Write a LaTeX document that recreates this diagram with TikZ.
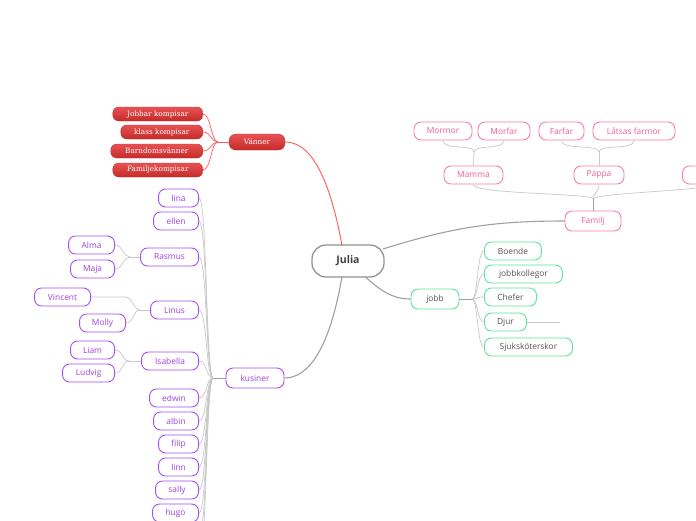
\documentclass[tikz,border=0pt]{standalone}
\usepackage{fontspec}
\setsansfont{Open Sans}
\newfontfamily\redserif{DejaVu Serif}
\definecolor{pinkB}{HTML}{F77FA8}
\definecolor{pinkT}{HTML}{F0608F}
\definecolor{greenB}{HTML}{5DE39B}
\definecolor{greyT}{HTML}{555555}
\definecolor{purB}{HTML}{A650F2}
\definecolor{purT}{HTML}{A040E0}
\definecolor{redTop}{HTML}{E85252}
\definecolor{redBot}{HTML}{C42B2B}
\definecolor{redLine}{HTML}{FF5A5A}
\definecolor{mainLine}{HTML}{A0A0A0}
\definecolor{subLine}{HTML}{C8C8C8}
\begin{document}
\begin{tikzpicture}[x=1pt,y=-1pt,
  base/.style={rectangle, rounded corners=7pt, minimum height=18pt, inner sep=0pt, line width=0.9pt, fill=white, font=\sffamily\fontsize{8.4}{9}\selectfont},
  pk/.style={base, draw=pinkB, text=pinkT},
  gr/.style={base, draw=greenB, text=greyT},
  pu/.style={base, draw=purB, text=purT},
  rd/.style={rectangle, rounded corners=6pt, minimum height=14pt, inner sep=0pt, top color=redTop, bottom color=redBot, draw=redBot, line width=0.4pt, text=white, font=\redserif\fontsize{7.3}{8}\selectfont},
  mainl/.style={draw=mainLine, line width=1.1pt},
  subl/.style={draw=subLine, line width=0.7pt},
  redl/.style={draw=redLine, line width=0.9pt}
]
\useasboundingbox (0,0) rectangle (696,520);
\fill[white] (0,0) rectangle (696,520);
\begin{scope}
\clip (0,0) rectangle (696,520);

% ---------- nodes ----------
\node[rectangle, rounded corners=14pt, minimum width=72pt, minimum height=32pt, draw=gray!85, line width=1.3pt, fill=white, text=black!75, font=\sffamily\bfseries\fontsize{10.5}{12}\selectfont] (julia) at (348,261) {Julia};

% Vänner
\node[rd, minimum width=56pt, minimum height=16pt, rounded corners=7pt] (vanner) at (257,142) {Vänner};
\node[rd, minimum width=90pt, anchor=east] (v1) at (203,114) {Jobbar kompisar};
\node[rd, minimum width=82pt, anchor=east] (v2) at (203,132) {klass kompisar};
\node[rd, minimum width=92pt, anchor=east] (v3) at (203,151) {Barndomsvänner};
\node[rd, minimum width=90pt, anchor=east] (v4) at (203,170) {Familjekompisar};

% Familj
\node[pk, minimum width=56pt, minimum height=20pt] (familj) at (593,221) {Familj};
\node[pk, minimum width=59pt] (mamma) at (473.5,175) {Mamma};
\node[pk, minimum width=50pt] (pappa) at (599,175) {Pappa};
\node[pk, minimum width=56pt, anchor=west] (third) at (682,175) {};
\node[pk, minimum width=58pt] (mormor) at (443,131) {Mormor};
\node[pk, minimum width=52pt] (morfar) at (504,131) {Morfar};
\node[pk, minimum width=45pt] (farfar) at (561.5,131) {Farfar};
\node[pk, minimum width=82pt] (latsas) at (634,131) {Låtsas farmor};

% jobb
\node[gr, minimum width=48pt, minimum height=20pt] (jobb) at (435,299) {jobb};
\node[gr, minimum width=57pt, anchor=west] (boende) at (484,251) {Boende};
\node[gr, minimum width=78pt, anchor=west] (kollegor) at (484,274) {jobbkollegor};
\node[gr, minimum width=52pt, anchor=west] (chefer) at (484,297) {Chefer};
\node[gr, minimum width=42pt, anchor=west] (djur) at (484,322) {Djur};
\node[gr, minimum width=88pt, anchor=west] (sjuk) at (484,347) {Sjuksköterskor};

% kusiner
\node[pu, minimum width=58pt, minimum height=20pt] (kusiner) at (255,378) {kusiner};
\node[pu, minimum width=40pt, anchor=east] (lina) at (199,198) {lina};
\node[pu, minimum width=45pt, anchor=east] (ellen) at (199,221) {ellen};
\node[pu, minimum width=58pt, anchor=east] (rasmus) at (199,257) {Rasmus};
\node[pu, minimum width=48pt, anchor=east] (linus) at (199,310) {Linus};
\node[pu, minimum width=57pt, anchor=east] (isabella) at (199,361) {Isabella};
\node[pu, minimum width=49pt, anchor=east] (edwin) at (199,398) {edwin};
\node[pu, minimum width=45pt, anchor=east] (albin) at (199,421) {albin};
\node[pu, minimum width=40pt, anchor=east] (filip) at (199,444) {filip};
\node[pu, minimum width=40pt, anchor=east] (linn) at (199,467) {linn};
\node[pu, minimum width=43pt, anchor=east] (sally) at (199,490) {sally};
\node[pu, minimum width=46pt, anchor=east] (hugo) at (199,513) {hugo};
\node[pu, minimum width=46pt, anchor=east] (alma) at (115,245) {Alma};
\node[pu, minimum width=44pt, anchor=east] (maja) at (115,269) {Maja};
\node[pu, minimum width=56pt, anchor=east] (vincent) at (91,297) {Vincent};
\node[pu, minimum width=46pt, anchor=east] (molly) at (126,323) {Molly};
\node[pu, minimum width=44pt, anchor=east] (liam) at (115,350) {Liam};
\node[pu, minimum width=52pt, anchor=east] (ludvig) at (115,373) {Ludvig};

% ---------- junctions ----------
\coordinate (vj) at (218,142);
\coordinate (mj) at (474,152);
\coordinate (pj) at (599,152);
\coordinate (fj) at (593,199);
\coordinate (jj) at (472,299);
\coordinate (kj) at (213,378);
\coordinate (rj) at (130,257);
\coordinate (lj) at (140,310);
\coordinate (ij) at (129,361);
\coordinate (djend) at (560,322);
\coordinate (kx1) at (199,536);
\coordinate (kx2) at (199,559);
\coordinate (jtop) at (342,245.5);
\coordinate (jright) at (383,249);
\coordinate (jbr) at (365,276.5);
\coordinate (jbot) at (342,276.5);

% ---------- connectors ----------
% main branches
\draw[redl] (jtop) .. controls +(-10,-55) and +(30,0) .. (vanner.east);
\draw[mainl] (jright) .. controls +(70,-22) and +(-70,0) .. (familj.west);
\draw[mainl] (jbr) .. controls +(15,14) and +(-18,0) .. (jobb.west);
\draw[mainl] (jbot) .. controls +(-12,70) and +(25,0) .. (kusiner.east);

% Vänner children
\draw[redl] (vanner.west) -- (vj);
\foreach \c in {v1,v2,v3,v4}
  \draw[redl, line width=0.7pt] (\c.east) .. controls +(8,0) and +(-7,0) .. (vj);

% Familj tree
\draw[subl] (mormor.south) .. controls +(0,10) and +(0,-8) .. (mj);
\draw[subl] (morfar.south) .. controls +(0,10) and +(0,-8) .. (mj);
\draw[subl] (mj) -- (mamma.north);
\draw[subl] (farfar.south) .. controls +(0,10) and +(0,-8) .. (pj);
\draw[subl] (latsas.south) .. controls +(0,10) and +(0,-8) .. (pj);
\draw[subl] (pj) -- (pappa.north);
\draw[subl] (mamma.south) .. controls +(0,10) and +(0,-6) .. (fj);
\draw[subl] (pappa.south) .. controls +(0,8) and +(0,-6) .. (fj);
\draw[subl] (third.south) .. controls +(0,6) and +(0,-6) .. (fj);
\draw[draw=mainLine, line width=1pt] (fj) -- (familj.north);

% jobb children
\draw[draw=mainLine, line width=1pt] (jobb.east) -- (jj);
\foreach \c in {boende,kollegor,chefer,djur,sjuk}
  \draw[subl] (jj) .. controls +(6,0) and +(-7,0) .. (\c.west);
\draw[subl] (djur.east) -- (djend);

% kusiner children
\draw[draw=mainLine, line width=1pt] (kusiner.west) -- (kj);
\foreach \c in {lina,ellen,rasmus,linus,isabella,edwin,albin,filip,linn,sally,hugo}
  \draw[subl] (\c.east) .. controls +(8,0) and +(-7,0) .. (kj);
\draw[subl] (kx1) .. controls +(8,0) and +(-7,0) .. (kj);
\draw[subl] (kx2) .. controls +(8,0) and +(-7,0) .. (kj);

% grandchildren
\draw[subl] (rasmus.west) -- (rj);
\draw[subl] (rj) .. controls +(-7,0) and +(8,0) .. (alma.east);
\draw[subl] (rj) .. controls +(-7,0) and +(8,0) .. (maja.east);
\draw[subl] (linus.west) -- (lj);
\draw[subl] (vincent.east) -- ++(34,0) .. controls +(8,0) and +(-7,0) .. (lj);
\draw[subl] (lj) .. controls +(-7,0) and +(8,0) .. (molly.east);
\draw[subl] (isabella.west) -- (ij);
\draw[subl] (ij) .. controls +(-7,0) and +(8,0) .. (liam.east);
\draw[subl] (ij) .. controls +(-7,0) and +(8,0) .. (ludvig.east);
\end{scope}
\end{tikzpicture}
\end{document}
